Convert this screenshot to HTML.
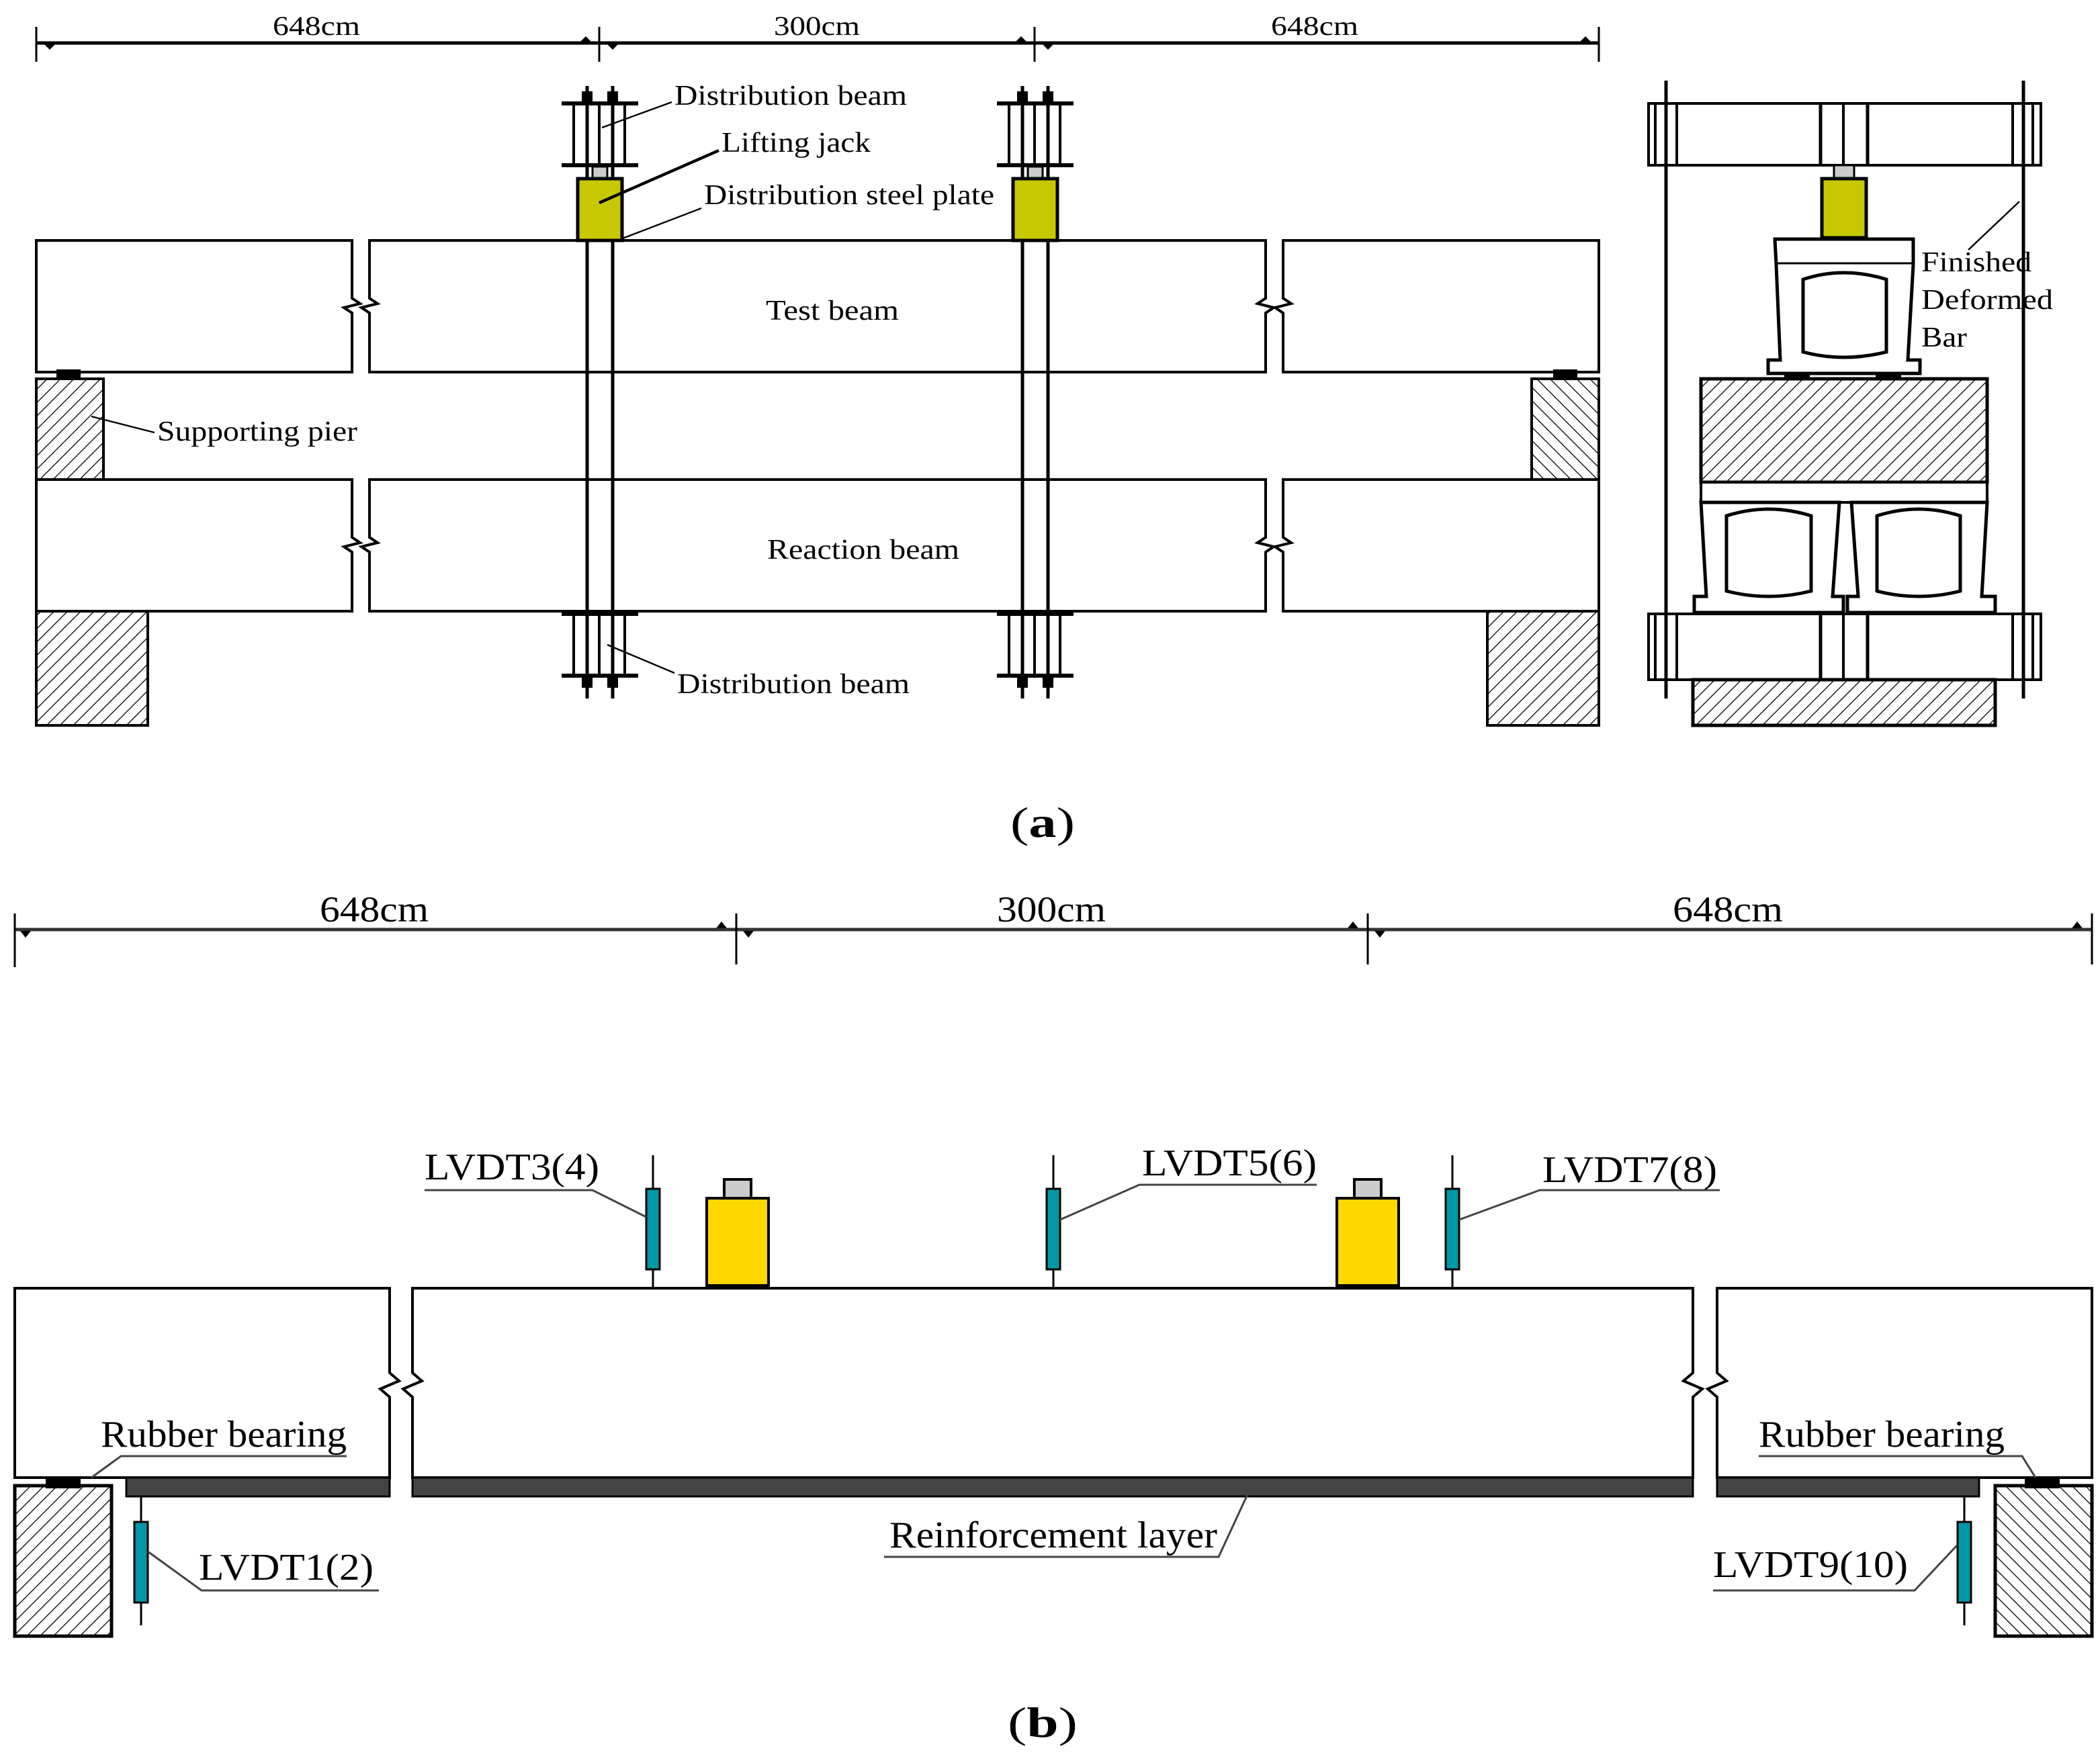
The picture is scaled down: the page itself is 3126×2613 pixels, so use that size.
<!DOCTYPE html>
<html><head><meta charset="utf-8">
<style>
html,body{margin:0;padding:0;background:#fff;}
svg{display:block;}
text{font-family:"Liberation Serif",serif;fill:#000;}
</style></head><body>
<svg width="3126" height="2613" viewBox="0 0 1563 1306.5" xmlns="http://www.w3.org/2000/svg">
<defs>
<pattern id="hL" width="7" height="7" patternUnits="userSpaceOnUse" patternTransform="rotate(45)">
<line x1="0" y1="0" x2="0" y2="7" stroke="#000" stroke-width="1.3"/></pattern>
<pattern id="hR" width="7" height="7" patternUnits="userSpaceOnUse" patternTransform="rotate(-45)">
<line x1="0" y1="0" x2="0" y2="7" stroke="#000" stroke-width="1.3"/></pattern>
</defs>
<rect width="1563" height="1306.5" fill="#fff"/>

<!-- ===== (a) ===== -->
<g stroke="#000" fill="none" stroke-width="2">
<!-- dimension line -->
<line x1="27" y1="32" x2="1190" y2="32" stroke-width="2.5"/>
<line x1="27" y1="20" x2="27" y2="46" stroke-width="1.5"/>
<line x1="446" y1="20" x2="446" y2="46" stroke-width="1.5"/>
<line x1="770" y1="20" x2="770" y2="46" stroke-width="1.5"/>
<line x1="1190" y1="20" x2="1190" y2="46" stroke-width="1.5"/>
</g>
<g fill="#000">
<path d="M33,33 l4,4 l4,-4z"/><path d="M432,31 l4,-4 l4,4z"/><path d="M452,33 l4,4 l4,-4z"/>
<path d="M756,31 l4,-4 l4,4z"/><path d="M776,33 l4,4 l4,-4z"/><path d="M1176,31 l4,-4 l4,4z"/>
</g>
<text x="203" y="26" font-size="20" textLength="65" lengthAdjust="spacingAndGlyphs">648cm</text>
<text x="576" y="26" font-size="20" textLength="64" lengthAdjust="spacingAndGlyphs">300cm</text>
<text x="946" y="26" font-size="20" textLength="65" lengthAdjust="spacingAndGlyphs">648cm</text>

<g stroke="#000" fill="#fff" stroke-width="2">
<!-- test beam -->
<path d="M262,179 H27 V277 H262 V233 L256,229 L268,226 L262,222 Z"/>
<path d="M275,179 H942 V222 L936,226 L948,229 L942,233 V277 H275 V233 L269,229 L281,226 L275,222 Z"/>
<path d="M955,179 H1190 V277 H955 V233 L949,229 L961,226 L955,222 Z"/>
<!-- reaction beam -->
<path d="M262,357 H27 V455 H262 V411 L256,407 L268,404 L262,400 Z"/>
<path d="M275,357 H942 V400 L936,404 L948,407 L942,411 V455 H275 V411 L269,407 L281,404 L275,400 Z"/>
<path d="M955,357 H1190 V455 H955 V411 L949,407 L961,404 L955,400 Z"/>
<!-- piers -->
<rect x="27" y="282" width="50" height="75" fill="url(#hL)"/>
<rect x="1140" y="282" width="50" height="75" fill="url(#hR)"/>
<rect x="27" y="455" width="83" height="85" fill="url(#hL)"/>
<rect x="1107" y="455" width="83" height="85" fill="url(#hL)"/>
</g>
<rect x="42" y="275" width="18" height="7" fill="#000"/>
<rect x="1156" y="275" width="18" height="7" fill="#000"/>

<!-- load frames (a) -->
<g id="frameA" stroke="#000" fill="none" stroke-width="2">
<line x1="437" y1="64" x2="437" y2="520" stroke-width="2.5"/>
<line x1="456" y1="64" x2="456" y2="520" stroke-width="2.5"/>
<line x1="418" y1="77" x2="475" y2="77" stroke-width="3"/>
<line x1="418" y1="123" x2="475" y2="123" stroke-width="3"/>
<line x1="427" y1="77" x2="427" y2="123"/><line x1="446" y1="77" x2="446" y2="123"/><line x1="465" y1="77" x2="465" y2="123"/>
<rect x="433" y="68" width="8" height="9" fill="#000" stroke="none"/>
<rect x="452" y="68" width="8" height="9" fill="#000" stroke="none"/>
<rect x="441" y="124" width="11" height="9" fill="#ccc" stroke-width="1.5"/>
<rect x="430" y="133" width="33" height="46" fill="#c8c800" stroke-width="2.5"/>
<line x1="418" y1="457" x2="475" y2="457" stroke-width="3"/>
<line x1="418" y1="503" x2="475" y2="503" stroke-width="3"/>
<line x1="427" y1="457" x2="427" y2="503"/><line x1="446" y1="457" x2="446" y2="503"/><line x1="465" y1="457" x2="465" y2="503"/>
<rect x="433" y="503" width="8" height="9" fill="#000" stroke="none"/>
<rect x="452" y="503" width="8" height="9" fill="#000" stroke="none"/>
</g>
<use href="#frameA" transform="translate(324,0)"/>

<!-- labels (a) -->
<g stroke="#000" fill="none">
<line x1="448" y1="95" x2="500" y2="76" stroke-width="1.2"/>
<line x1="446" y1="151" x2="535" y2="112" stroke-width="2.2"/>
<line x1="462" y1="178" x2="522" y2="155" stroke-width="1.2"/>
<line x1="68" y1="310" x2="115" y2="322" stroke-width="1.2"/>
<line x1="452" y1="480" x2="502" y2="501" stroke-width="1.2"/>
</g>
<text x="502" y="78" font-size="21" textLength="173" lengthAdjust="spacingAndGlyphs">Distribution beam</text>
<text x="537" y="113" font-size="21" textLength="111" lengthAdjust="spacingAndGlyphs">Lifting jack</text>
<text x="524" y="152" font-size="21" textLength="216" lengthAdjust="spacingAndGlyphs">Distribution steel plate</text>
<text x="570" y="238" font-size="21" textLength="99" lengthAdjust="spacingAndGlyphs">Test beam</text>
<text x="117" y="328" font-size="21" textLength="149" lengthAdjust="spacingAndGlyphs">Supporting pier</text>
<text x="571" y="416" font-size="21" textLength="143" lengthAdjust="spacingAndGlyphs">Reaction beam</text>
<text x="504" y="516" font-size="21" textLength="173" lengthAdjust="spacingAndGlyphs">Distribution beam</text>

<!-- side view -->
<g stroke="#000" fill="#fff" stroke-width="2">
<rect x="1227" y="77" width="292" height="46"/>
<rect x="1227" y="457" width="292" height="49"/>
<line x1="1232" y1="77" x2="1232" y2="123"/><line x1="1248" y1="77" x2="1248" y2="123"/>
<line x1="1498" y1="77" x2="1498" y2="123"/><line x1="1513" y1="77" x2="1513" y2="123"/>
<line x1="1355" y1="77" x2="1355" y2="123" stroke-width="2.5"/><line x1="1372" y1="77" x2="1372" y2="123"/><line x1="1390" y1="77" x2="1390" y2="123" stroke-width="2.5"/>
<line x1="1232" y1="457" x2="1232" y2="506"/><line x1="1248" y1="457" x2="1248" y2="506"/>
<line x1="1498" y1="457" x2="1498" y2="506"/><line x1="1513" y1="457" x2="1513" y2="506"/>
<line x1="1355" y1="457" x2="1355" y2="506" stroke-width="2.5"/><line x1="1372" y1="457" x2="1372" y2="506"/><line x1="1390" y1="457" x2="1390" y2="506" stroke-width="2.5"/>
<rect x="1260" y="506" width="225" height="34" fill="url(#hL)" stroke-width="2.5"/>
<rect x="1365" y="123" width="15" height="10" fill="#ccc" stroke-width="1.5"/>
<rect x="1356" y="133" width="33" height="44" fill="#c8c800" stroke-width="2.5"/>
<!-- top girder -->
<path d="M1321,178 H1424 V197 L1420,268 H1429 V278 H1316 V268 H1325 L1322,197 Z" stroke-width="2.5"/>
<line x1="1322" y1="196" x2="1423" y2="196" stroke-width="1.5"/>
<path d="M1342,208 Q1372,198 1404,208 V262 Q1372,270 1342,262 Z" stroke-width="2.5"/>
<rect x="1266" y="282" width="213" height="77" fill="url(#hL)" stroke-width="2.5"/>
<!-- lower girders -->
<rect x="1266" y="359" width="213" height="15" stroke-width="2"/>
<path d="M1266,374 L1270,444 H1261 V456 H1372 V444 H1364 L1369,374 Z" stroke-width="2.5"/>
<path d="M1378,374 L1383,444 H1375 V456 H1485 V444 H1475 L1479,374 Z" stroke-width="2.5"/>
<path d="M1285,384 Q1316,374 1348,384 V440 Q1316,448 1285,440 Z" stroke-width="2.5"/>
<path d="M1397,384 Q1428,374 1459,384 V440 Q1428,448 1397,440 Z" stroke-width="2.5"/>
<line x1="1240" y1="60" x2="1240" y2="520" stroke-width="2.5"/>
<line x1="1506" y1="60" x2="1506" y2="520" stroke-width="2.5"/>
</g>
<rect x="1328" y="277" width="19" height="5" fill="#000"/>
<rect x="1396" y="277" width="19" height="5" fill="#000"/>
<line x1="1503" y1="150" x2="1465" y2="186" stroke="#000" stroke-width="1.2"/>
<text x="1430" y="202" font-size="21" textLength="82" lengthAdjust="spacingAndGlyphs">Finished</text>
<text x="1430" y="230" font-size="21" textLength="98" lengthAdjust="spacingAndGlyphs">Deformed</text>
<text x="1430" y="258" font-size="21" textLength="34" lengthAdjust="spacingAndGlyphs">Bar</text>

<text x="752" y="623" font-size="32" textLength="48" lengthAdjust="spacingAndGlyphs">(<tspan font-weight="bold">a</tspan>)</text>

<!-- ===== (b) ===== -->
<g stroke="#000" fill="none">
<line x1="11" y1="692" x2="1557" y2="692" stroke-width="2.5" stroke="#333"/>
<line x1="11" y1="680" x2="11" y2="720" stroke-width="1.5"/>
<line x1="548" y1="680" x2="548" y2="718" stroke-width="1.5"/>
<line x1="1018" y1="680" x2="1018" y2="718" stroke-width="1.5"/>
<line x1="1557" y1="680" x2="1557" y2="718" stroke-width="1.5"/>
</g>
<g fill="#000">
<path d="M15,693 l4,5 l4,-5z"/><path d="M533,691 l4,-5 l4,5z"/><path d="M553,693 l4,5 l4,-5z"/>
<path d="M1003,691 l4,-5 l4,5z"/><path d="M1023,693 l4,5 l4,-5z"/><path d="M1542,691 l4,-5 l4,5z"/>
</g>
<text x="238" y="686" font-size="27" textLength="81" lengthAdjust="spacingAndGlyphs">648cm</text>
<text x="742" y="686" font-size="27" textLength="81" lengthAdjust="spacingAndGlyphs">300cm</text>
<text x="1245" y="686" font-size="27" textLength="82" lengthAdjust="spacingAndGlyphs">648cm</text>

<g stroke="#000" fill="#fff" stroke-width="2">
<path d="M290,959 H11 V1100 H290 V1040 L283,1034 L297,1028 L290,1022 Z"/>
<path d="M307,959 H1260 V1022 L1253,1028 L1267,1034 L1260,1040 V1100 H307 V1040 L300,1034 L314,1028 L307,1022 Z"/>
<path d="M1278,959 H1557 V1100 H1278 V1040 L1271,1034 L1285,1028 L1278,1022 Z"/>
<rect x="11" y="1106" width="72" height="112" fill="url(#hL)" stroke-width="2.5"/>
<rect x="1485" y="1106" width="72" height="112" fill="url(#hR)" stroke-width="2.5"/>
</g>
<g fill="#444" stroke="#000" stroke-width="1.5">
<rect x="94" y="1100" width="196" height="14"/>
<rect x="307" y="1100" width="953" height="14"/>
<rect x="1278" y="1100" width="195" height="14"/>
</g>
<rect x="34" y="1099" width="26" height="9" fill="#000"/>
<rect x="1507" y="1099" width="26" height="9" fill="#000"/>

<!-- jacks -->
<g stroke="#000" stroke-width="2">
<rect x="539" y="878" width="20" height="14" fill="#ccc"/>
<rect x="526" y="892" width="46" height="65" fill="#ffd700"/>
<rect x="1008" y="878" width="20" height="14" fill="#ccc"/>
<rect x="995" y="892" width="46" height="65" fill="#ffd700"/>
</g>
<!-- LVDTs -->
<g stroke="#000" stroke-width="1.5" fill="#0097a7">
<line x1="486" y1="860" x2="486" y2="959"/><rect x="481" y="885" width="10" height="60"/>
<line x1="784" y1="860" x2="784" y2="959"/><rect x="779" y="885" width="10" height="60"/>
<line x1="1081" y1="860" x2="1081" y2="959"/><rect x="1076" y="885" width="10" height="60"/>
<line x1="105" y1="1114" x2="105" y2="1210"/><rect x="100" y="1133" width="10" height="60"/>
<line x1="1462" y1="1114" x2="1462" y2="1210"/><rect x="1457" y="1133" width="10" height="60"/>
</g>
<g stroke="#444" stroke-width="1.5" fill="none">
<polyline points="316,886 441,886 481,906"/>
<polyline points="980,882 848,882 789,908"/>
<polyline points="1280,886 1146,886 1086,908"/>
<polyline points="282,1184 150,1184 110,1155"/>
<polyline points="1275,1184 1425,1184 1457,1150"/>
<polyline points="258,1084 90,1084 68,1100"/>
<polyline points="1309,1084 1505,1084 1515,1100"/>
<polyline points="658,1159 907,1159 932,1105"/>
</g>
<text x="316" y="878" font-size="28" textLength="130" lengthAdjust="spacingAndGlyphs">LVDT3(4)</text>
<text x="850" y="875" font-size="28" textLength="130" lengthAdjust="spacingAndGlyphs">LVDT5(6)</text>
<text x="1148" y="880" font-size="28" textLength="130" lengthAdjust="spacingAndGlyphs">LVDT7(8)</text>
<text x="148" y="1176" font-size="28" textLength="130" lengthAdjust="spacingAndGlyphs">LVDT1(2)</text>
<text x="1275" y="1174" font-size="28" textLength="145" lengthAdjust="spacingAndGlyphs">LVDT9(10)</text>
<text x="75" y="1077" font-size="28" textLength="183" lengthAdjust="spacingAndGlyphs">Rubber bearing</text>
<text x="1309" y="1077" font-size="28" textLength="183" lengthAdjust="spacingAndGlyphs">Rubber bearing</text>
<text x="662" y="1152" font-size="28" textLength="244" lengthAdjust="spacingAndGlyphs">Reinforcement layer</text>

<text x="750" y="1293" font-size="32" textLength="52" lengthAdjust="spacingAndGlyphs">(<tspan font-weight="bold">b</tspan>)</text>
</svg>
</body></html>
